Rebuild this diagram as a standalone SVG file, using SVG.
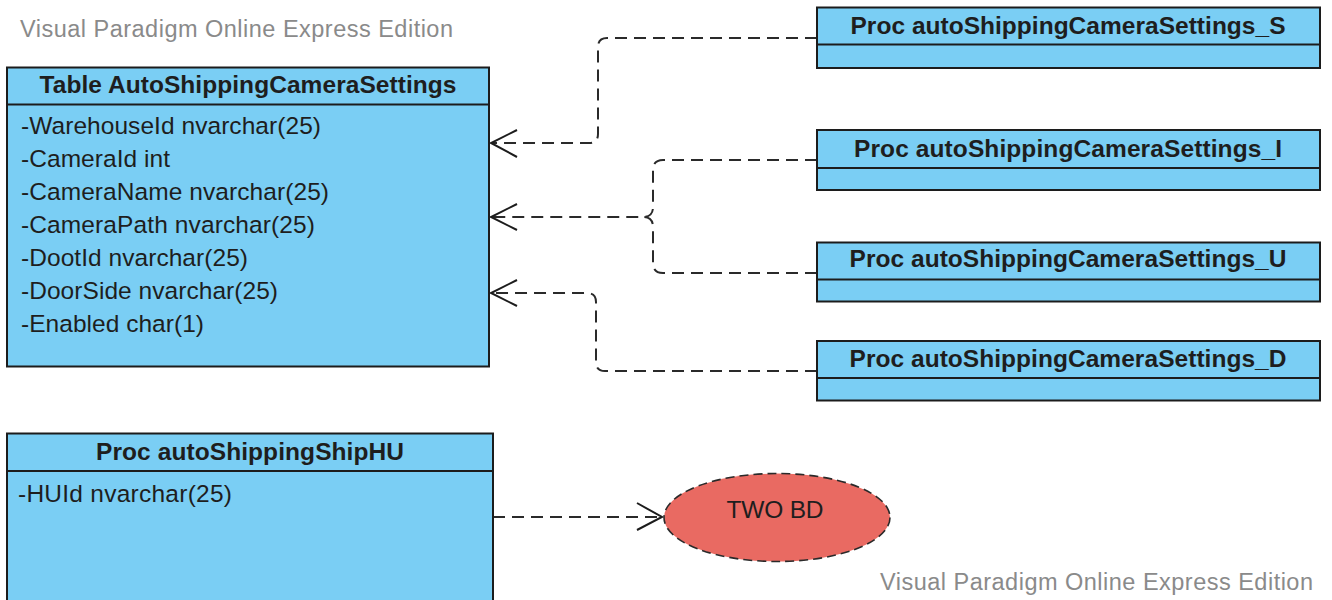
<svg xmlns="http://www.w3.org/2000/svg" width="1332" height="600" viewBox="0 0 1332 600">
  <defs>
    <style>
      .box { fill: #7ACEF4; stroke: #1c1c1c; stroke-width: 2; }
      .div { stroke: #1c1c1c; stroke-width: 2; }
      .hdr { font-family: "Liberation Sans", Arial, sans-serif; font-size: 24.5px; font-weight: bold; fill: #1e1e1e; text-anchor: middle; }
      .attr { font-family: "Liberation Sans", Arial, sans-serif; font-size: 24.5px; fill: #1e1e1e; }
      .wm { font-family: "Liberation Sans", Arial, sans-serif; font-size: 23.5px; fill: #8a8a8a; }
      .dep { fill: none; stroke: #2a2a2a; stroke-width: 2; stroke-dasharray: 12 7; }
      .head { fill: none; stroke: #1c1c1c; stroke-width: 2; }
      .oval { fill: #E96A62; stroke: #2a2a2a; stroke-width: 1.6; stroke-dasharray: 9 5; }
    </style>
  </defs>
  <rect width="1332" height="600" fill="#ffffff"/>

  <!-- watermarks -->
  <text class="wm" x="20" y="37" textLength="433" lengthAdjust="spacing">Visual Paradigm Online Express Edition</text>
  <text class="wm" x="880" y="590" textLength="433" lengthAdjust="spacing">Visual Paradigm Online Express Edition</text>

  <!-- dependency connectors -->
  <g id="connectors">
    <path class="dep" d="M817,38 H607 Q598,38 598,47 V134 Q598,143 589,143 H492"/>
    <path class="head" d="M517,130 L491,143 L517,157"/>
    <path class="dep" d="M817,160 H663 Q653,160 653,170 V207 Q653,217 643,217 H492"/>
    <path class="dep" d="M817,273 H663 Q653,273 653,263 V227 Q653,217 643,217"/>
    <path class="head" d="M517,204 L491,217 L517,230"/>
    <path class="dep" d="M817,371 H605 Q596,371 596,362 V302 Q596,293 587,293 H492"/>
    <path class="head" d="M517,280 L491,293 L517,306"/>
    <path class="dep" d="M493,517 H660"/>
    <path class="head" d="M637,503 L662,517 L637,530"/>
  </g>

  <!-- table -->
  <g id="table-autoshippingcamerasettings">
    <rect class="box" x="7" y="67.5" width="482" height="299"/>
    <line class="div" x1="7" y1="104.5" x2="489" y2="104.5"/>
    <text class="hdr" x="248" y="93" textLength="417" lengthAdjust="spacing">Table AutoShippingCameraSettings</text>
    <text class="attr" x="21" y="133.5" textLength="300" lengthAdjust="spacing">-WarehouseId nvarchar(25)</text>
    <text class="attr" x="21" y="166.5" textLength="149" lengthAdjust="spacing">-CameraId int</text>
    <text class="attr" x="21" y="199.5" textLength="308" lengthAdjust="spacing">-CameraName nvarchar(25)</text>
    <text class="attr" x="21" y="232.5" textLength="294" lengthAdjust="spacing">-CameraPath nvarchar(25)</text>
    <text class="attr" x="21" y="265.5" textLength="227" lengthAdjust="spacing">-DootId nvarchar(25)</text>
    <text class="attr" x="21" y="298.5" textLength="257" lengthAdjust="spacing">-DoorSide nvarchar(25)</text>
    <text class="attr" x="21" y="331.5" textLength="183" lengthAdjust="spacing">-Enabled char(1)</text>
  </g>

  <!-- stored procedures -->
  <g id="proc-s">
    <rect class="box" x="817" y="7.5" width="503" height="60.5"/>
    <line class="div" x1="817" y1="44.5" x2="1320" y2="44.5"/>
    <text class="hdr" x="1068" y="34" textLength="435" lengthAdjust="spacing">Proc autoShippingCameraSettings_S</text>
  </g>
  <g id="proc-i">
    <rect class="box" x="817" y="130" width="503" height="60"/>
    <line class="div" x1="817" y1="168" x2="1320" y2="168"/>
    <text class="hdr" x="1068" y="157" textLength="428" lengthAdjust="spacing">Proc autoShippingCameraSettings_I</text>
  </g>
  <g id="proc-u">
    <rect class="box" x="817" y="242.5" width="503" height="59"/>
    <line class="div" x1="817" y1="279.5" x2="1320" y2="279.5"/>
    <text class="hdr" x="1068" y="267" textLength="437" lengthAdjust="spacing">Proc autoShippingCameraSettings_U</text>
  </g>
  <g id="proc-d">
    <rect class="box" x="817" y="341" width="503" height="59.5"/>
    <line class="div" x1="817" y1="378" x2="1320" y2="378"/>
    <text class="hdr" x="1068" y="367" textLength="437" lengthAdjust="spacing">Proc autoShippingCameraSettings_D</text>
  </g>

  <g id="proc-shiphu">
    <rect class="box" x="7" y="433.5" width="486" height="200"/>
    <line class="div" x1="7" y1="471" x2="493" y2="471"/>
    <text class="hdr" x="250" y="460" textLength="308" lengthAdjust="spacing">Proc autoShippingShipHU</text>
    <text class="attr" x="18" y="502" textLength="214" lengthAdjust="spacing">-HUId nvarchar(25)</text>
  </g>

  <!-- database -->
  <g id="two-bd">
    <ellipse class="oval" cx="777" cy="517.5" rx="113" ry="44"/>
    <text class="attr" x="775" y="518" text-anchor="middle" textLength="97" lengthAdjust="spacing">TWO BD</text>
  </g>
</svg>
